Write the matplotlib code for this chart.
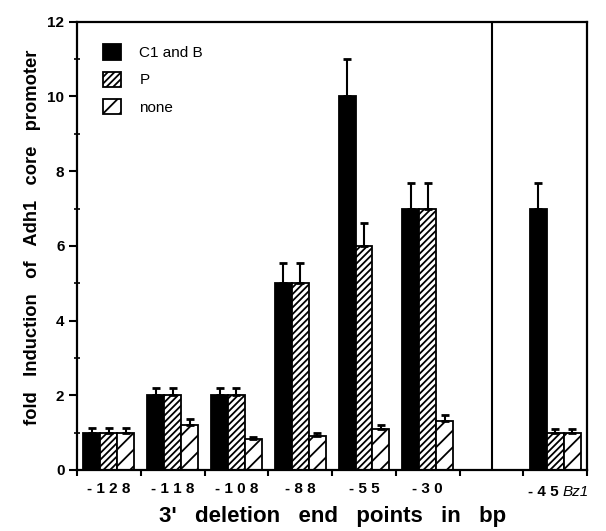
#!/usr/bin/env python3
"""Fold induction of the Adh1 core promoter for 3' deletion end points."""

import matplotlib
matplotlib.use("Agg")
import matplotlib.pyplot as plt
from matplotlib.patches import Patch
from matplotlib.ticker import MultipleLocator

OUTPUT_PNG = "out.png"

DELETIONS = ["-128", "-118", "-108", "-88", "-55", "-30", "-45"]
SERIES = ["C1 and B", "P", "none"]

C1B_VALUES = [1.0, 2.0, 2.0, 5.0, 10.0, 7.0, 7.0]
C1B_ERR = [0.12, 0.2, 0.2, 0.55, 1.0, 0.68, 0.68]
P_VALUES = [1.0, 2.0, 2.0, 5.0, 6.0, 7.0, 1.0]
P_ERR = [0.12, 0.2, 0.2, 0.55, 0.62, 0.68, 0.1]
NONE_VALUES = [1.0, 1.2, 0.82, 0.92, 1.1, 1.3, 1.0]
NONE_ERR = [0.12, 0.17, 0.05, 0.08, 0.1, 0.16, 0.1]

# group centres: six deletions, a gap, then the Bz1 construct
GROUP_X = [0.5, 1.5, 2.5, 3.5, 4.5, 5.5, 7.5]
BAR_W = 0.265
DIVIDER_X = 6.5

plt.rcParams["font.family"] = ["Liberation Sans", "DejaVu Sans"]
plt.rcParams["hatch.linewidth"] = 1.3


def spaced(s):
    return " ".join(s)


def main():
    fig = plt.figure(figsize=(6.06, 5.31), dpi=100)
    ax = fig.add_axes([0.127, 0.115, 0.842, 0.844])

    styles = [
        dict(color="black", hatch=None),
        dict(color="white", hatch="/////"),
        dict(color="white", hatch="//"),
    ]
    values = [C1B_VALUES, P_VALUES, NONE_VALUES]
    errors = [C1B_ERR, P_ERR, NONE_ERR]

    for i, (vals, errs, st) in enumerate(zip(values, errors, styles)):
        xs = [g + (i - 1) * BAR_W for g in GROUP_X]
        ax.bar(xs, vals, width=BAR_W, facecolor=st["color"],
               edgecolor="black", hatch=st["hatch"], linewidth=1.3,
               zorder=2)
        ax.errorbar(xs, vals, yerr=[[0] * len(errs), errs], fmt="none",
                    ecolor="black", elinewidth=1.5, capsize=3, capthick=2,
                    zorder=3)

    ax.axvline(DIVIDER_X, color="black", linewidth=1.5, zorder=1)

    ax.set_xlim(0, 8)
    ax.set_ylim(0, 12)

    # boundary ticks on x, labels at group centres
    ax.set_xticks(range(0, 9))
    ax.set_xticklabels([])
    ax.set_xticks(GROUP_X[:-1], minor=True)
    ax.set_xticklabels([spaced(d) for d in DELETIONS[:-1]],
                       minor=True, fontsize=11, fontweight="bold")
    ax.tick_params(axis="x", which="major", direction="out", length=4, width=1.5)
    ax.tick_params(axis="x", which="minor", length=0, pad=9)
    # last group: deletion label plus italic Bz1 tag
    ax.text(GROUP_X[-1] - 0.19, -0.6, spaced(DELETIONS[-1]),
            fontsize=11, fontweight="bold", ha="center", va="center")
    ax.text(GROUP_X[-1] + 0.12, -0.6, "Bz1", style="italic", fontsize=11,
            ha="left", va="center")

    ax.yaxis.set_major_locator(MultipleLocator(2))
    ax.yaxis.set_minor_locator(MultipleLocator(1))
    ax.tick_params(axis="y", which="major", direction="out", length=6,
                   width=1.5, labelsize=11, pad=3)
    ax.tick_params(axis="y", which="minor", direction="inout", length=5, width=1.2)
    for lab in ax.get_yticklabels():
        lab.set_fontweight("bold")

    for sp in ax.spines.values():
        sp.set_linewidth(1.6)

    ax.set_xlabel("3'   deletion   end   points   in   bp", fontsize=16,
                  fontweight="bold", labelpad=7)
    ax.set_ylabel("fold   Induction   of   Adh1   core   promoter",
                  fontsize=13.2, fontweight="bold")
    ax.yaxis.set_label_coords(-0.07, 0.52)

    handles = [
        Patch(facecolor="black", edgecolor="black", linewidth=1.3),
        Patch(facecolor="white", edgecolor="black", hatch="/////", linewidth=1.3),
        Patch(facecolor="white", edgecolor="black", hatch="//", linewidth=1.3),
    ]
    ax.legend(handles, SERIES, loc="upper left", frameon=False, fontsize=11,
              handlelength=1.15, handleheight=1.15, handletextpad=1.2,
              labelspacing=0.75, bbox_to_anchor=(0.025, 0.98))

    fig.savefig(OUTPUT_PNG, dpi=100)


if __name__ == "__main__":
    main()
